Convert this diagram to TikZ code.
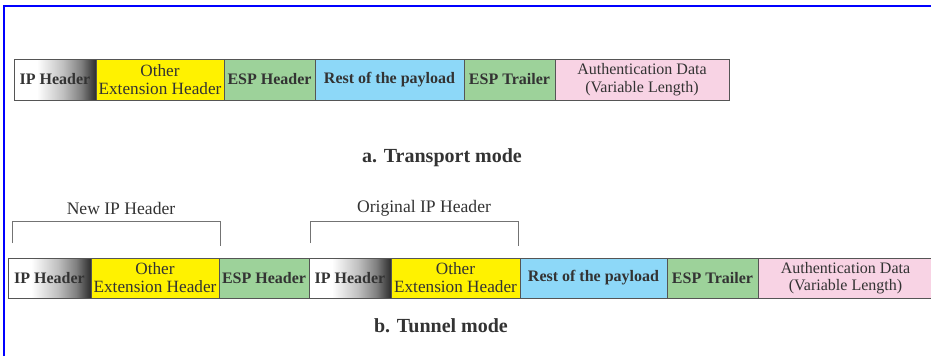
\documentclass[tikz,border=0pt]{standalone}
\usepackage{fontspec}
\setmainfont{Liberation Serif}
\definecolor{txt}{HTML}{333333}
\definecolor{edge}{HTML}{555555}
\definecolor{ylw}{HTML}{FFF200}
\definecolor{grn}{HTML}{9DD29A}
\definecolor{blu}{HTML}{8DD8F8}
\definecolor{pnk}{HTML}{F8D3E4}
\pgfdeclarehorizontalshading{ipgrad}{100bp}{color(0bp)=(white); color(25bp)=(white); color(39bp)=(white);
  color(55bp)=(black!25); color(66bp)=(black!50); color(72bp)=(black!72); color(75bp)=(black!82); color(100bp)=(black!82)}
\begin{document}
\begin{tikzpicture}[x=1pt,y=-1pt,
  box/.style={draw=edge, line width=0.9pt, inner sep=0pt, outer sep=0pt, anchor=north west,
    align=center, text=txt, font=\fontsize{16}{17.5}\selectfont},
  extbox/.style={box, fill=ylw, font=\fontsize{17.2}{18}\selectfont},
  boldbox/.style={box, font=\fontsize{16}{17.5}\selectfont\bfseries},
  iphdr/.style={boldbox, shading=ipgrad},
  bracketline/.style={draw=black!55, line width=1pt},
  lbl/.style={text=txt, inner sep=0pt, font=\fontsize{17.6}{18}\selectfont},
  captext/.style={text=txt, inner sep=0pt, font=\fontsize{20}{21}\selectfont\bfseries}]
\useasboundingbox (0,0) rectangle (931,356);
\fill[white] (0,0) rectangle (931,356);
\draw[blue, line width=2pt] (4,356) -- (4,5.6) -- (931,5.6);

% a. Transport mode
\node[iphdr, minimum width=82pt, minimum height=41pt] (t1) at (14,59) {IP Header};
\node[extbox, minimum width=128pt, minimum height=41pt] (t2) at (96,59) {Other\\Extension Header};
\node[boldbox, fill=grn, minimum width=91pt, minimum height=41pt] (t3) at (224,59) {ESP Header};
\node[boldbox, fill=blu, minimum width=149pt, minimum height=41pt] (t4) at (315,59) {Rest of the payload};
\node[boldbox, fill=grn, minimum width=91pt, minimum height=41pt] (t5) at (464,59) {ESP Trailer};
\node[box, fill=pnk, minimum width=174pt, minimum height=41pt] (t6) at (555,59) {Authentication Data\\(Variable Length)};
\node[captext] (capa) at (442,158) {a. Transport mode};

% b. Tunnel mode
\node[iphdr, minimum width=83pt, minimum height=40pt] (u1) at (8,258) {IP Header};
\node[extbox, minimum width=128pt, minimum height=40pt] (u2) at (91,258) {Other\\Extension Header};
\node[boldbox, fill=grn, minimum width=90pt, minimum height=40pt] (u3) at (219,258) {ESP Header};
\node[iphdr, minimum width=82pt, minimum height=40pt] (u4) at (309,258) {IP Header};
\node[extbox, minimum width=129pt, minimum height=40pt] (u5) at (391,258) {Other\\Extension Header};
\node[boldbox, fill=blu, minimum width=147pt, minimum height=40pt] (u6) at (520,258) {Rest of the payload};
\node[boldbox, fill=grn, minimum width=91pt, minimum height=40pt] (u7) at (667,258) {ESP Trailer};
\node[box, fill=pnk, minimum width=175pt, minimum height=40pt] (u8) at (758,258) {Authentication Data\\(Variable Length)};
\node[captext] (capb) at (441,326) {b. Tunnel mode};

% brackets
\coordinate (n1) at (12,243);
\coordinate (n2) at (12,221);
\coordinate (n3) at (220,221);
\coordinate (n4) at (220,246);
\draw[bracketline] (n1) -- (n2) -- (n3) -- (n4);
\node[lbl] (newip) at (121,208) {New IP Header};
\coordinate (o1) at (310,243);
\coordinate (o2) at (310,221);
\coordinate (o3) at (518,221);
\coordinate (o4) at (518,246);
\draw[bracketline] (o1) -- (o2) -- (o3) -- (o4);
\node[lbl] (origip) at (424,208) {Original IP Header};
\end{tikzpicture}
\end{document}
